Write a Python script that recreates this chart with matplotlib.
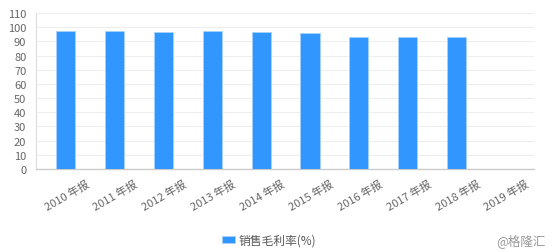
import matplotlib
matplotlib.use("Agg")
import matplotlib.pyplot as plt
import matplotlib.transforms as mtransforms

plt.rcParams['font.family'] = ['Noto Sans CJK SC', 'DejaVu Sans']

categories = ["2010 年报", "2011 年报", "2012 年报", "2013 年报", "2014 年报",
              "2015 年报", "2016 年报", "2017 年报", "2018 年报", "2019 年报"]
gross_margin = [97.3, 97.5, 96.3, 97.0, 96.3, 95.9, 93.3, 92.8, 93.3, None]
y_ticks = list(range(0, 111, 10))
series_name = "销售毛利率(%)"

fig = plt.figure(figsize=(5.54, 2.53), dpi=100)
ax = fig.add_axes([36/554, 1 - 170/253, (534-36)/554, (170-14)/253])

xs = [i for i, v in enumerate(gross_margin) if v is not None]
vals = [v for v in gross_margin if v is not None]
ax.bar(xs, vals, width=0.39, color="#3197fe", edgecolor="#a8d2ff", linewidth=0.6,
       label=series_name, zorder=3)

ax.set_xlim(-0.604, 9.582)
ax.set_ylim(0, 110)
ax.set_yticks(y_ticks)
ax.set_xticks(range(len(categories)))
ax.set_xticklabels([])
offset = mtransforms.ScaledTranslation(20/100, -9/100, fig.dpi_scale_trans)
lbl_tr = ax.get_xaxis_transform() + offset
for i, c in enumerate(categories):
    ax.text(i, 0, c, transform=lbl_tr, rotation=30, ha="right", va="top",
            rotation_mode="anchor", fontsize=8, color="#666666", clip_on=False)
ax.tick_params(axis="y", labelsize=8, labelcolor="#666666", length=0, pad=7)
ax.tick_params(axis="x", length=0)
ax.grid(axis="y", color="#eeeeee", linewidth=0.8, zorder=0)
ax.grid(axis="x", visible=False)
for s in ["top", "right"]:
    ax.spines[s].set_visible(False)
ax.spines["left"].set_color("#dddddd")
ax.spines["bottom"].set_color("#cccccc")
ax.spines["bottom"].set_linewidth(1.0)

leg = fig.legend(loc="center", bbox_to_anchor=(269/554, 1 - 241/253), frameon=False,
                 fontsize=8.5, handlelength=1.1, handleheight=0.6, handletextpad=0.3)
for t in leg.get_texts():
    t.set_color("#555555")

fig.text(546/554, 1 - 241/253, "@格隆汇", ha="right", va="center", fontsize=9, color="#999999")

fig.savefig("out.png", dpi=100)
